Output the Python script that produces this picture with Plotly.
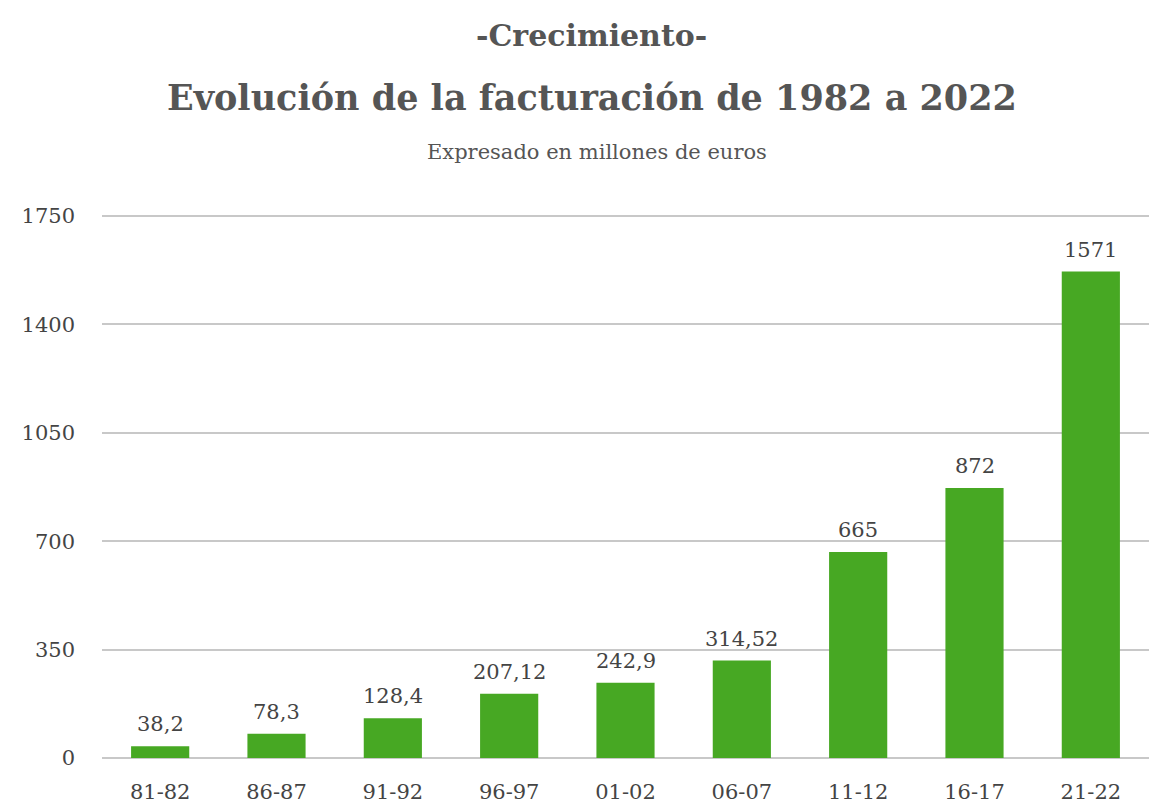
import plotly.graph_objects as go

categories = ["81-82", "86-87", "91-92", "96-97", "01-02", "06-07", "11-12", "16-17", "21-22"]
values = [38.2, 78.3, 128.4, 207.12, 242.9, 314.52, 665, 872, 1571]
y_ticks = [0, 350, 700, 1050, 1400, 1750]

FONT = "Roboto Slab, DejaVu Serif, serif"
labels = [f"{v:g}".replace(".", ",") for v in values]

fig = go.Figure()
fig.add_trace(go.Bar(
    x=categories, y=values,
    marker=dict(color="#47a823", line=dict(width=0)),
    hoverinfo="skip",
))

for c, v, t in zip(categories, values, labels):
    fig.add_annotation(x=c, y=v, text=t, showarrow=False, yanchor="bottom",
                       yshift=8, font=dict(family=FONT, size=21, color="#444444"))

H0 = 758
PH = 545
def ypos(p):
    return (H0 - p) / PH

fig.add_annotation(xref="paper", yref="paper", x=0.468, y=ypos(35), text="<b>-Crecimiento-</b>",
                   showarrow=False, yanchor="middle", font=dict(family=FONT, size=30, color="#555555"))
fig.add_annotation(xref="paper", yref="paper", x=0.468, y=ypos(98),
                   text="<b>Evolución de la facturación de 1982 a 2022</b>",
                   showarrow=False, yanchor="middle", font=dict(family=FONT, size=35, color="#555555"))
fig.add_annotation(xref="paper", yref="paper", x=0.473, y=ypos(152),
                   text="Expresado en millones de euros",
                   showarrow=False, yanchor="middle", font=dict(family=FONT, size=21, color="#555555"))

fig.update_layout(
    width=1149, height=809,
    margin=dict(l=102, r=0, t=213, b=51, autoexpand=False),
    paper_bgcolor="white", plot_bgcolor="white",
    bargap=0.5, showlegend=False,
    font=dict(family=FONT, color="#444444"),
)
fig.update_xaxes(type="category", showgrid=False, showline=False, ticks="",
                 tickfont=dict(size=21, color="#444444"),
                 ticklabelstandoff=19, automargin=False)
fig.update_yaxes(range=[0, 1760], tickvals=y_ticks, showgrid=True, gridcolor="#c8c8c8", gridwidth=1.5,
                 zeroline=True, zerolinecolor="#c8c8c8", zerolinewidth=2, showline=False, ticks="",
                 tickfont=dict(size=21, color="#444444"), ticklabelstandoff=26, automargin=False)

fig.write_html("out.html", config={"displayModeBar": False},
               post_script="document.body.style.margin='0';document.body.style.overflow='hidden';")
